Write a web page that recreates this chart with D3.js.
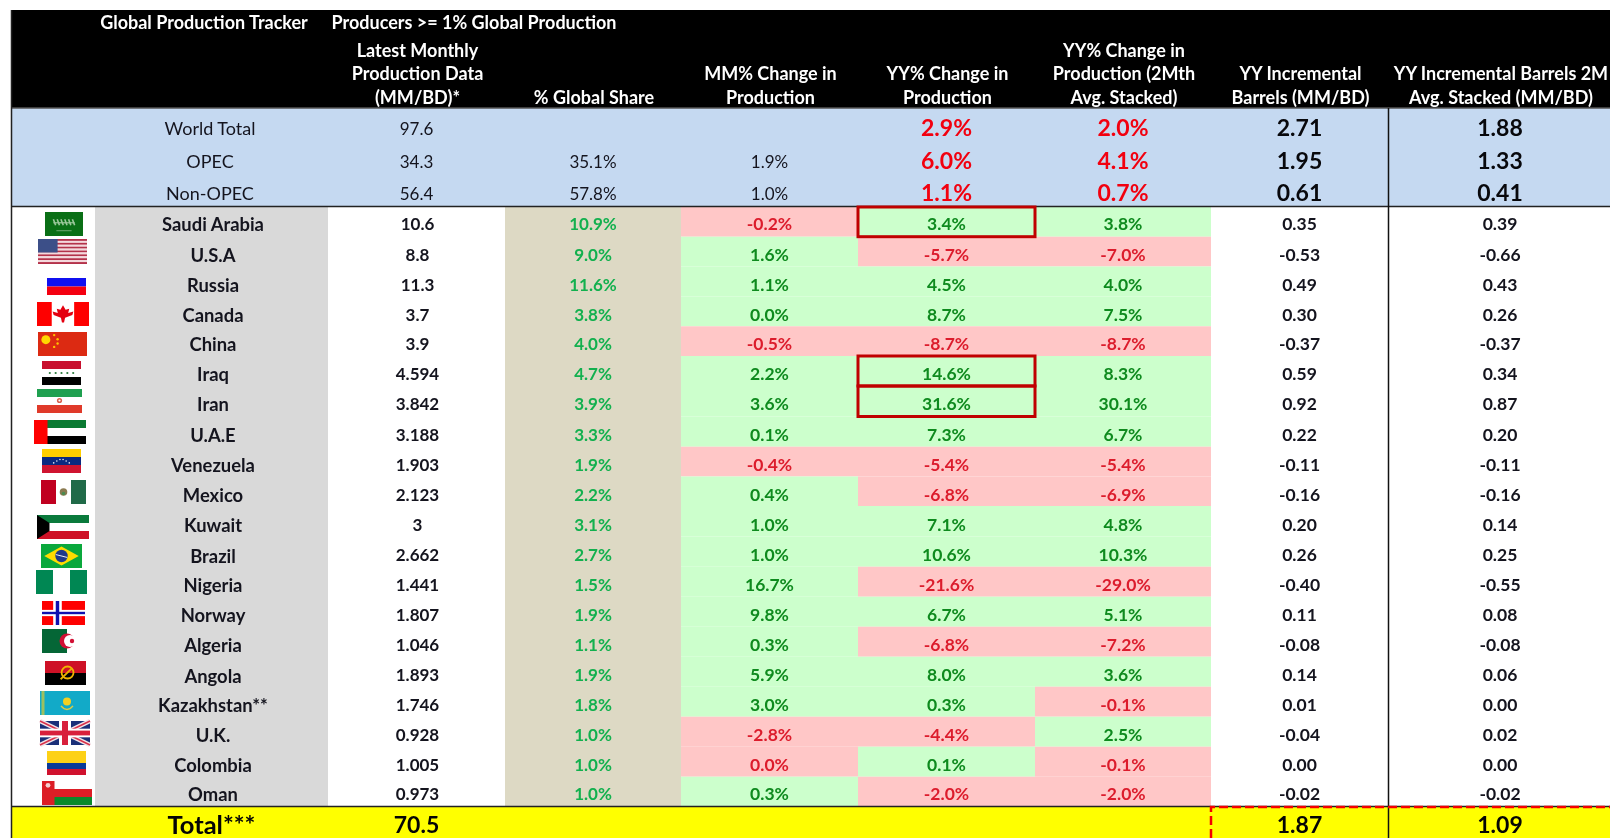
<!DOCTYPE html>
<meta charset="utf-8">
<style>
html, body { margin: 0; background: #fff; }
svg { display: block; font-family: Lato, Carlito, sans-serif; }
.hdr { fill: #fff; font-weight: 700; font-size: 18px; text-anchor: middle; }
.cell { text-anchor: middle; dominant-baseline: central; }
.soft { filter: blur(0.4px); }
</style>
<body>
<script src="https://cdnjs.cloudflare.com/ajax/libs/d3/7.8.5/d3.min.js"></script>
<script>
var countries = ["Saudi Arabia","U.S.A","Russia","Canada","China","Iraq","Iran","U.A.E","Venezuela","Mexico","Kuwait","Brazil","Nigeria","Norway","Algeria","Angola","Kazakhstan**","U.K.","Colombia","Oman"];
var production = [10.6,8.8,11.3,3.7,3.9,4.594,3.842,3.188,1.903,2.123,3,2.662,1.441,1.807,1.046,1.893,1.746,0.928,1.005,0.973];
var globalShare = [10.9,9.0,11.6,3.8,4.0,4.7,3.9,3.3,1.9,2.2,3.1,2.7,1.5,1.9,1.1,1.9,1.8,1.0,1.0,1.0];
// Colombia MM prints 0.0% on a red cell, so it is a small negative
var mmChange = [-0.2,1.6,1.1,0.0,-0.5,2.2,3.6,0.1,-0.4,0.4,1.0,1.0,16.7,9.8,0.3,5.9,3.0,-2.8,-0.04,0.3];
var yyChange = [3.4,-5.7,4.5,8.7,-8.7,14.6,31.6,7.3,-5.4,-6.8,7.1,10.6,-21.6,6.7,-6.8,8.0,0.3,-4.4,0.1,-2.0];
var yyStacked = [3.8,-7.0,4.0,7.5,-8.7,8.3,30.1,6.7,-5.4,-6.9,4.8,10.3,-29.0,5.1,-7.2,3.6,-0.1,2.5,-0.1,-2.0];
var yyBarrels = [0.35,-0.53,0.49,0.30,-0.37,0.59,0.92,0.22,-0.11,-0.16,0.20,0.26,-0.40,0.11,-0.08,0.14,0.01,-0.04,0.00,-0.02];
var yyBarrelsStacked = [0.39,-0.66,0.43,0.26,-0.37,0.34,0.87,0.20,-0.11,-0.16,0.14,0.25,-0.55,0.08,-0.08,0.06,0.00,0.02,0.00,-0.02];
var boxedCountries = ["Saudi Arabia","Iraq","Iran"];

var summaryNames = ["World Total","OPEC","Non-OPEC"];
var summaryProduction = [97.6,34.3,56.4];
var summaryShare = [null,35.1,57.8];
var summaryMM = [null,1.9,1.0];
var summaryYY = [2.9,6.0,1.1];
var summaryStacked = [2.0,4.1,0.7];
var summaryBarrels = [2.71,1.95,0.61];
var summaryBarrelsStacked = [1.88,1.33,0.41];

var totalProduction = 70.5, totalBarrels = 1.87, totalBarrelsStacked = 1.09;

var titleLeft = "Global Production Tracker", titleRight = "Producers >= 1% Global Production";
var headers = [
  {col:"prod", lines:["Latest Monthly","Production Data","(MM/BD)*"]},
  {col:"share", lines:["% Global Share"]},
  {col:"mm", lines:["MM% Change in","Production"]},
  {col:"yy", lines:["YY% Change in","Production"]},
  {col:"stack", lines:["YY% Change in","Production (2Mth","Avg. Stacked)"]},
  {col:"bar", lines:["YY Incremental","Barrels (MM/BD)"]},
  {col:"barS", lines:["YY Incremental Barrels 2M","Avg. Stacked (MM/BD)"]}
];

// layout
var width = 1610, height = 838;
var colEdges = {flag:[12,95], name:[95,328], prod:[328,505], share:[505,681], mm:[681,858], yy:[858,1035], stack:[1035,1211], bar:[1211,1388], barS:[1388,1612]};
var rowEdges = [207,236.7,266.5,296.5,326.3,356,386,416.5,446.7,476.5,506,536.5,566.7,596.7,626.7,656.7,686.7,716.7,746.7,776.7,806];
var rowTextY = [223.2,254.2,284.2,314.2,343.2,373.2,403.2,434.2,464.2,494.2,524.2,554.7,584.2,614.2,644.2,674.7,704.2,734.2,764.2,793.2];
var summaryY = d3.scaleOrdinal().domain(summaryNames).range([128,161,193]);

var fmt = d3.formatLocale({decimal:".",thousands:",",grouping:[3],currency:["$",""],minus:"-"});
var pct = function(v){ return fmt.format(".1f")(v) + "%"; };
var two = fmt.format(".2f");
var green = "#ccffcc", pink = "#ffc7c7", greenText = "#0e8a1e", redText = "#dc1c2c", shareText = "#12b04e", ink = "#14141e";

var svg = d3.select("body").append("svg").attr("width", width).attr("height", height).attr("viewBox","0 0 "+width+" "+height);
var g = svg.append("g").attr("class","soft");

function colX(c){ return (colEdges[c][0] + colEdges[c][1]) / 2; }
function rect(par,x0,y0,x1,y1,fill){ return par.append("rect").attr("x",x0).attr("y",y0).attr("width",x1-x0).attr("height",y1-y0).attr("fill",fill); }
function hline(x0,x1,y,col,w){ return g.append("line").attr("x1",x0).attr("x2",x1).attr("y1",y).attr("y2",y).attr("stroke",col).attr("stroke-width",w); }
function vline(x,y0,y1,col,w){ return g.append("line").attr("x1",x).attr("x2",x).attr("y1",y0).attr("y2",y1).attr("stroke",col).attr("stroke-width",w); }
function cell(c,y,txt,size,weight,col){
  return g.append("text").attr("class","cell").attr("x",colX(c)).attr("y",y).attr("font-size",size).attr("font-weight",weight).attr("fill",col).text(txt);
}

// header band
rect(g,11,10,width,108,"#000");
g.append("text").attr("class","hdr").attr("x",204).attr("y",28.5).text(titleLeft);
g.append("text").attr("class","hdr").attr("x",474).attr("y",28.5).text(titleRight);
var lineY = [57,80,104];
headers.forEach(function(h){
  var first = lineY.length - h.lines.length;
  g.selectAll(null).data(h.lines).enter().append("text").attr("class","hdr")
    .attr("x",colX(h.col)+1).attr("y",function(d,i){ return lineY[first+i]; }).text(function(d){ return d; });
});

// summary band
rect(g,11,108,width,206,"#c5d9f1");
summaryNames.forEach(function(n,i){
  var y = summaryY(n);
  g.append("text").attr("class","cell").attr("x",210).attr("y",y).attr("font-size",18).attr("fill",ink).text(n);
  cell("prod",y,summaryProduction[i],17,400,ink);
  if (summaryShare[i] != null) cell("share",y,pct(summaryShare[i]),17,400,ink);
  if (summaryMM[i] != null) cell("mm",y,pct(summaryMM[i]),17,400,ink);
  cell("yy",y-1,pct(summaryYY[i]),23,700,"#f2000f");
  cell("stack",y-1,pct(summaryStacked[i]),23,700,"#f2000f");
  cell("bar",y-1,two(summaryBarrels[i]),23,700,"#08080c");
  cell("barS",y-1,two(summaryBarrelsStacked[i]),23,700,"#08080c");
});

// country rows
rect(g,colEdges.name[0],rowEdges[0],colEdges.name[1],rowEdges[20],"#d9d9d9");
rect(g,colEdges.share[0],rowEdges[0],colEdges.share[1],rowEdges[20],"#ddd9c4");

var rows = countries.map(function(n,i){
  return {name:n, top:rowEdges[i], bot:rowEdges[i+1], mid:rowTextY[i], prod:production[i], share:globalShare[i], mm:mmChange[i], yy:yyChange[i], stack:yyStacked[i], bar:yyBarrels[i], barS:yyBarrelsStacked[i]};
});

["mm","yy","stack"].forEach(function(c){
  g.selectAll(null).data(rows).enter().append("rect")
    .attr("x",colEdges[c][0]).attr("width",colEdges[c][1]-colEdges[c][0])
    .attr("y",function(d){ return d.top; }).attr("height",function(d){ return d.bot-d.top; })
    .attr("fill",function(d){ return d[c] < 0 ? pink : green; });
});

rows.forEach(function(d){
  var y = d.mid;
  cell("name",y+1,d.name,18.4,700,ink).attr("x",colX("name")+1.5);
  cell("prod",y,d.prod,17,700,ink).attr("x",colX("prod")+1);
  cell("share",y,pct(d.share),17,700,shareText);
  ["mm","yy","stack"].forEach(function(c){
    cell(c,y,pct(d[c]),17.5,700,d[c] < 0 ? redText : greenText);
  });
  cell("bar",y,two(d.bar),17.5,700,ink);
  cell("barS",y,two(d.barS),17.5,700,ink);
});

// total row
rect(g,11,806,width,height,"#ffff00");
cell("name",824,"Total***",25.5,700,"#050505");
cell("prod",824,totalProduction,23,700,"#050505");
cell("bar",824,two(totalBarrels),23,700,"#050505");
cell("barS",824,two(totalBarrelsStacked),23,700,"#050505");

// rules
hline(11,width,108,"#555",1.5);
hline(11,width,206.5,"#222",1.5);
hline(11,width,806.5,"#222",1.5);
vline(11.5,10,height,"#222",1.5);
vline(1388.5,108,height,"#111",1.5);
rows.filter(function(d){ return boxedCountries.indexOf(d.name) >= 0; }).forEach(function(d){
  g.append("rect").attr("x",colEdges.yy[0]).attr("y",d.top).attr("width",colEdges.yy[1]-colEdges.yy[0]).attr("height",d.bot-d.top)
    .attr("fill","none").attr("stroke","#c00000").attr("stroke-width",3);
});
g.append("path").attr("d","M"+colEdges.bar[0]+","+height+"V807H"+width)
  .attr("fill","none").attr("stroke","#f40000").attr("stroke-width",2.5).attr("stroke-dasharray","9 4");

// flags, plain shapes only
var flagBoxes = {
  "Saudi Arabia":[45,212,38,24],"U.S.A":[38,239,49,25],"Russia":[47,278,39,17],"Canada":[37,302,52,24],"China":[38,332,49,24],
  "Iraq":[42,361,39,24],"Iran":[37,389,45,24],"U.A.E":[34,420,52,24],"Venezuela":[42,449,39,24],"Mexico":[41,480,45,24],
  "Kuwait":[37,515,52,24],"Brazil":[41,544,41,24],"Nigeria":[36,570,51,24],"Norway":[42,601,43,24],"Algeria":[42,629,50,24],
  "Angola":[45,661,41,24],"Kazakhstan**":[40,691,50,24],"U.K.":[40,721,50,24],"Colombia":[47,751,39,24],"Oman":[42,781,50,24]
};
function hBands(f,cols,shares){
  var y = 0, tot = d3.sum(shares);
  cols.forEach(function(c,i){ rect(f.g,0,y*f.h/tot,f.w,(y+shares[i])*f.h/tot,c); y += shares[i]; });
}
function vBands(f,cols,shares){
  var x = 0, tot = d3.sum(shares);
  cols.forEach(function(c,i){ rect(f.g,x*f.w/tot,0,(x+shares[i])*f.w/tot,f.h,c); x += shares[i]; });
}
function dot(f,x,y,r,c){ f.g.append("circle").attr("cx",x*f.w).attr("cy",y*f.h).attr("r",r).attr("fill",c); }
function poly(f,pts,c){ f.g.append("polygon").attr("points",pts.map(function(p){ return (p[0]*f.w)+","+(p[1]*f.h); }).join(" ")).attr("fill",c); }
function bar(f,x1,y1,x2,y2,c,w){ f.g.append("line").attr("x1",x1*f.w).attr("y1",y1*f.h).attr("x2",x2*f.w).attr("y2",y2*f.h).attr("stroke",c).attr("stroke-width",w); }

var flagPainters = {
  "Saudi Arabia":function(f){
    hBands(f,["#0a6f16"],[1]);
    [.22,.32,.42,.52,.62,.72].forEach(function(x){ bar(f,x,.3,x+.06,.55,"#9cc89c",1.6); });
    bar(f,.22,.45,.78,.45,"#9cc89c",1.2); bar(f,.3,.78,.7,.78,"#6fa872",1);
  },
  "U.S.A":function(f){
    hBands(f,["#b4324a","#f4d8dc","#b4324a","#f4d8dc","#b4324a","#f4d8dc","#b4324a","#f4d8dc","#b4324a","#f4d8dc","#b4324a","#f4d8dc","#b4324a"],[1,1,1,1,1,1,1,1,1,1,1,1,1]);
    rect(f.g,0,0,f.w*.4,f.h*.54,"#3c4f88");
  },
  "Russia":function(f){ hBands(f,["#1010f0","#f40010"],[1,1]); },
  "Canada":function(f){
    vBands(f,["#fe0000","#fff","#fe0000"],[1,1.5,1]);
    poly(f,[[.5,.14],[.55,.32],[.62,.28],[.6,.46],[.7,.4],[.68,.54],[.54,.66],[.52,.85],[.48,.85],[.46,.66],[.32,.54],[.3,.4],[.4,.46],[.38,.28],[.45,.32]],"#e40010");
  },
  "China":function(f){
    hBands(f,["#dc2a12"],[1]);
    dot(f,.16,.32,4.5,"#ffd800");
    [[.33,.13],[.4,.3],[.4,.48],[.33,.62]].forEach(function(p){ dot(f,p[0],p[1],1.2,"#ffc400"); });
  },
  "Iraq":function(f){ hBands(f,["#c8102e","#fff","#000"],[1,1,1]); [.2,.35,.5,.65,.8].forEach(function(x){ dot(f,x,.5,1.1,"#2a7a3c"); }); },
  "Iran":function(f){ hBands(f,["#1fa050","#fff","#e03a2a"],[1,1,1]); dot(f,.5,.48,2.6,"#d8604e"); dot(f,.5,.48,1.1,"#fff"); },
  "U.A.E":function(f){ hBands(f,["#0a7a32","#fff","#000"],[1,1,1]); rect(f.g,0,0,f.w*.26,f.h,"#fe0000"); },
  "Venezuela":function(f){
    hBands(f,["#ffcf00","#0a2a80","#cf1430"],[1,1,1]);
    [.3,.38,.46,.54,.62,.7].forEach(function(x){ dot(f,x,x<.34||x>.66?.58:(x<.42||x>.58?.5:.44),.8,"#dfe4f2"); });
  },
  "Mexico":function(f){ vBands(f,["#c00020","#fff","#206a48"],[1,1,1]); dot(f,.5,.5,3.8,"#8a7a50"); dot(f,.5,.56,1.8,"#4a8a50"); },
  "Kuwait":function(f){ hBands(f,["#0a7a3c","#fff","#ce1126"],[1,1,1]); poly(f,[[0,0],[.24,.33],[.24,.67],[0,1]],"#000"); },
  "Brazil":function(f){ hBands(f,["#0aa83c"],[1]); poly(f,[[.5,.1],[.92,.5],[.5,.9],[.08,.5]],"#ffdc00"); dot(f,.5,.5,6.2,"#1e3a8a"); bar(f,.36,.44,.64,.56,"#e8ecf4",1); },
  "Nigeria":function(f){ vBands(f,["#008753","#fff","#008753"],[1,1,1]); },
  "Norway":function(f){
    hBands(f,["#fe0000"],[1]);
    rect(f.g,f.w*.26,0,f.w*.46,f.h,"#fff"); rect(f.g,0,f.h*.37,f.w,f.h*.63,"#fff");
    rect(f.g,f.w*.32,0,f.w*.4,f.h,"#1010b0"); rect(f.g,0,f.h*.45,f.w,f.h*.55,"#1010b0");
  },
  "Algeria":function(f){
    rect(f.g,0,0,f.w*.5,f.h,"#056636");
    dot(f,.5,.5,7.5,"#d21034"); dot(f,.56,.5,6,"#fff"); dot(f,.6,.5,2.2,"#d21034");
  },
  "Angola":function(f){
    hBands(f,["#ce1126","#000"],[1,1]);
    f.g.append("circle").attr("cx",f.w*.55).attr("cy",f.h*.48).attr("r",6).attr("fill","none").attr("stroke","#f0b400").attr("stroke-width",1.8);
    bar(f,.38,.76,.66,.3,"#e8b000",1.8);
  },
  "Kazakhstan**":function(f){ hBands(f,["#12aac8"],[1]); rect(f.g,f.w*.03,0,f.w*.09,f.h,"#9cc060"); dot(f,.54,.44,4,"#f4d020"); f.g.append("path").attr("d","M"+f.w*.42+","+f.h*.62+"Q"+f.w*.54+","+f.h*.92+" "+f.w*.66+","+f.h*.62).attr("fill","none").attr("stroke","#e0cc40").attr("stroke-width",1.4); },
  "U.K.":function(f){
    hBands(f,["#1a2f78"],[1]);
    bar(f,0,0,1,1,"#f0e4e8",4.5); bar(f,1,0,0,1,"#f0e4e8",4.5);
    bar(f,0,0,1,1,"#d8304a",1.5); bar(f,1,0,0,1,"#d8304a",1.5);
    rect(f.g,f.w*.38,0,f.w*.62,f.h,"#fff"); rect(f.g,0,f.h*.32,f.w,f.h*.68,"#fff");
    rect(f.g,f.w*.44,0,f.w*.56,f.h,"#d8203c"); rect(f.g,0,f.h*.4,f.w,f.h*.6,"#d8203c");
  },
  "Colombia":function(f){ hBands(f,["#fdd116","#0a3a98","#d0122e"],[2,1,1]); },
  "Oman":function(f){
    hBands(f,["#fff","#dc1e26","#0a8a2a"],[1,1,1]);
    rect(f.g,0,0,f.w*.25,f.h,"#dc1e26"); dot(f,.12,.18,2.4,"#f4d0d0");
  }
};
countries.forEach(function(n){
  var b = flagBoxes[n];
  var fg = g.append("g").attr("transform","translate("+b[0]+","+b[1]+")");
  flagPainters[n]({g:fg, w:b[2], h:b[3]});
});
</script>
</body>
